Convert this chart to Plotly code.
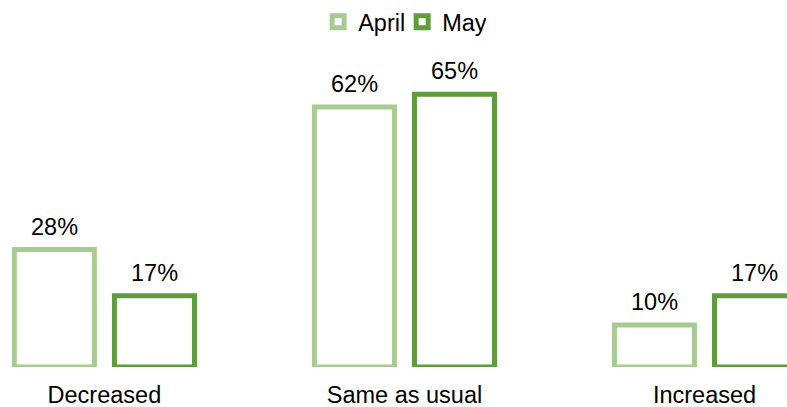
import plotly.graph_objects as go

categories = ["Decreased", "Same as usual", "Increased"]
april = [28, 62, 10]
may = [17, 65, 17]

LIGHT = "#a7cc93"
DARK = "#5f9c3c"
FONT = "Liberation Sans, Arial"
SIZE = 23.5

fig = go.Figure()
for name, vals, col in [("April", april, LIGHT), ("May", may, DARK)]:
    fig.add_trace(go.Bar(
        x=categories, y=vals, name=name,
        marker=dict(color="white", line=dict(color=col, width=5)),
    ))

# value labels above each bar
for vals, shift in [(april, -50), (may, 50)]:
    for cat, v in zip(categories, vals):
        fig.add_annotation(x=cat, y=v, text=f"{v}%", showarrow=False,
                           xshift=shift, yshift=8, yanchor="bottom",
                           font=dict(size=SIZE, color="black"))

fig.update_layout(
    width=787, height=407,
    margin=dict(l=0, r=0, t=0, b=39.5),
    paper_bgcolor="white", plot_bgcolor="white",
    font=dict(family=FONT, size=SIZE, color="black"),
    barmode="group", bargap=0.333, bargroupgap=0.2,
    showlegend=True,
    legend=dict(orientation="h", x=0.511, xanchor="center", y=0.94, yanchor="middle",
                font=dict(size=SIZE), itemwidth=30, tracegroupgap=0,
                entrywidth=39, entrywidthmode="pixels"),
    xaxis=dict(range=[-0.348, 2.275], showline=False, showgrid=False, ticks="",
               tickfont=dict(size=SIZE), ticklabelstandoff=11, automargin=False),
    yaxis=dict(range=[0, 87.5], visible=False, automargin=False),
)

# drop the default 8px page margin so the figure sits at the window's corner
fig.write_html("out.html", config={"displayModeBar": False},
               post_script="document.body.style.margin='0';")
